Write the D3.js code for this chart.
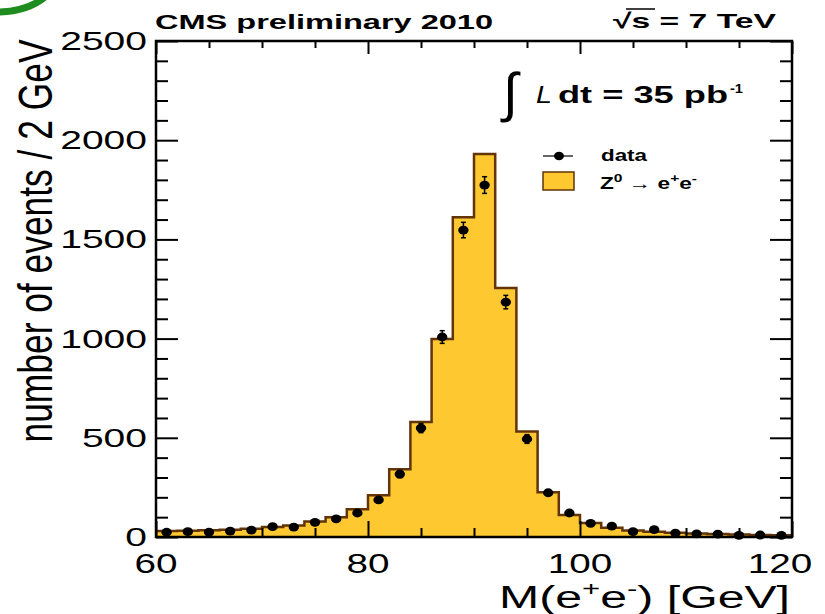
<!DOCTYPE html>
<html>
<head>
<meta charset="utf-8">
<script src="https://cdn.jsdelivr.net/npm/d3@7"></script>
<style>
  body { margin: 0; background: #fff; }
  svg { display: block; }
  text { font-family: "Liberation Sans", Arial, sans-serif; }
</style>
</head>
<body>
<div class="vis-container"></div>
<script>
// bins of 2 GeV, lower edges
const binLow = [60, 62, 64, 66, 68, 70, 72, 74, 76, 78, 80, 82, 84, 86, 88,
  90, 92, 94, 96, 98, 100, 102, 104, 106, 108, 110, 112, 114, 116, 118];
const binUpper = 120;
// Z -> ee simulation (filled histogram)
const mcCounts = [30, 32, 34, 37, 41, 50, 58, 78, 100, 140, 210, 342, 580, 998, 1612,
  1930, 1255, 532, 225, 111, 70, 47, 33, 27, 22, 18, 15, 12, 10, 9];
// data points and their errors
const dataCounts = [24, 27, 25, 30, 35, 52, 50, 74, 91, 121, 187, 317, 549, 1008, 1547,
  1774, 1184, 494, 223, 121, 69, 55, 27, 37, 20, 16, 14, 8, 10, 8];
const dataErrors = [5, 5, 5, 5, 6, 7, 7, 9, 10, 11, 14, 18, 23, 32, 39,
  42, 34, 22, 15, 11, 8, 7, 5, 6, 4, 4, 4, 3, 3, 3];
const xMajorTicks = [60, 80, 100, 120];
const xMinorTicks = [65, 70, 75, 85, 90, 95, 105, 110, 115];
const yMajorTicks = [0, 500, 1000, 1500, 2000, 2500];
const yMinorTicks = [100, 200, 300, 400, 600, 700, 800, 900, 1100, 1200, 1300, 1400,
  1600, 1700, 1800, 1900, 2100, 2200, 2300, 2400];

const FILL = '#fdc830';
const EDGE = '#623408';

document.addEventListener('DOMContentLoaded', () => {
  buildPlot();
});

function buildPlot() {
  const width = 825;
  const height = 614;
  const svg = d3.select('.vis-container').append('svg')
    .attr('width', width)
    .attr('height', height);

  const x = d3.scaleLinear().domain([60, 120]).range([156, 792]);
  const y = d3.scaleLinear().domain([0, 2500]).range([537, 41]);

  // green swoosh in the corner
  svg.append('path')
    .attr('d', 'M-4,12 Q28,12 46,-4')
    .attr('fill', 'none')
    .attr('stroke', '#1f8c1f')
    .attr('stroke-width', 7);

  // histogram
  const steps = binLow.map((b, i) => [b, mcCounts[i]])
    .concat([[binUpper, mcCounts[mcCounts.length - 1]]]);
  const area = d3.area()
    .x(d => x(d[0]))
    .y0(y(0))
    .y1(d => y(d[1]))
    .curve(d3.curveStepAfter);
  const line = d3.line()
    .x(d => x(d[0]))
    .y(d => y(d[1]))
    .curve(d3.curveStepAfter);
  svg.append('path')
    .attr('d', area(steps))
    .attr('fill', FILL);
  svg.append('path')
    .attr('d', line(steps))
    .attr('fill', 'none')
    .attr('stroke', EDGE)
    .attr('stroke-width', 2.5);

  // data points
  const pts = binLow.map((b, i) => ({c: b + 1, v: dataCounts[i], e: dataErrors[i]}));
  const pg = svg.append('g');
  pg.selectAll('.err').data(pts)
    .enter().append('line')
      .attr('class', 'err')
      .attr('x1', d => x(d.c))
      .attr('x2', d => x(d.c))
      .attr('y1', d => y(d.v - d.e))
      .attr('y2', d => y(d.v + d.e))
      .attr('stroke', '#000')
      .attr('stroke-width', 1.5);
  pg.selectAll('.cap').data(pts.flatMap(d => [d.v - d.e, d.v + d.e].map(v => ({c: d.c, v}))))
    .enter().append('line')
      .attr('class', 'cap')
      .attr('x1', d => x(d.c) - 2.5)
      .attr('x2', d => x(d.c) + 2.5)
      .attr('y1', d => y(d.v))
      .attr('y2', d => y(d.v))
      .attr('stroke', '#000')
      .attr('stroke-width', 1.5);
  pg.selectAll('.dot').data(pts)
    .enter().append('ellipse')
      .attr('class', 'dot')
      .attr('cx', d => x(d.c))
      .attr('cy', d => y(d.v))
      .attr('rx', 5.2)
      .attr('ry', 4.4)
      .attr('fill', '#000');

  // ticks on all four sides, pointing inwards
  const tickAxis = (axisFn, scale, values, size, transform) => {
    const g = svg.append('g')
      .attr('transform', transform)
      .call(axisFn(scale).tickValues(values).tickSizeInner(-size).tickSizeOuter(0).tickFormat(''));
    g.select('.domain').remove();
    g.selectAll('.tick line').attr('stroke', '#000').attr('stroke-width', 2);
  };
  tickAxis(d3.axisBottom, x, xMajorTicks, 16, `translate(0,${y(0)})`);
  tickAxis(d3.axisBottom, x, xMinorTicks, 9, `translate(0,${y(0)})`);
  tickAxis(d3.axisTop, x, xMajorTicks, 13, `translate(0,${y(2500)})`);
  tickAxis(d3.axisTop, x, xMinorTicks, 7, `translate(0,${y(2500)})`);
  tickAxis(d3.axisLeft, y, yMajorTicks, 22, `translate(${x(60)},0)`);
  tickAxis(d3.axisLeft, y, yMinorTicks, 12, `translate(${x(60)},0)`);
  tickAxis(d3.axisRight, y, yMajorTicks, 22, `translate(${x(120)},0)`);
  tickAxis(d3.axisRight, y, yMinorTicks, 12, `translate(${x(120)},0)`);

  svg.append('rect')
    .attr('x', x(60))
    .attr('y', y(2500))
    .attr('width', x(120) - x(60))
    .attr('height', y(0) - y(2500))
    .attr('fill', 'none')
    .attr('stroke', '#000')
    .attr('stroke-width', 2.5);

  // tick labels
  svg.selectAll('.ylab').data(yMajorTicks)
    .enter().append('text')
      .attr('class', 'ylab')
      .attr('x', 147)
      .attr('y', d => y(d) + 9)
      .attr('text-anchor', 'end')
      .attr('font-size', 26)
      .attr('textLength', d => String(d).length * 21.7)
      .attr('lengthAdjust', 'spacingAndGlyphs')
      .text(d => d);
  svg.selectAll('.xlab').data(xMajorTicks)
    .enter().append('text')
      .attr('class', 'xlab')
      .attr('x', d => d === 120 ? x(d) - 12 : x(d))
      .attr('y', 573)
      .attr('text-anchor', 'middle')
      .attr('font-size', 27)
      .attr('textLength', d => String(d).length * 21.5)
      .attr('lengthAdjust', 'spacingAndGlyphs')
      .text(d => d);

  // axis titles
  svg.append('text')
    .attr('transform', 'translate(52,241) scale(1.38,1) rotate(-90)')
    .attr('text-anchor', 'middle')
    .attr('font-size', 35)
    .attr('textLength', 403)
    .attr('lengthAdjust', 'spacingAndGlyphs')
    .text('number of events / 2 GeV');

  const xt = svg.append('text')
    .attr('x', 499)
    .attr('y', 608)
    .attr('font-size', 31)
    .attr('textLength', 291)
    .attr('lengthAdjust', 'spacingAndGlyphs');
  xt.append('tspan').text('M(e');
  xt.append('tspan').attr('dy', -12).attr('font-size', 20).text('+');
  xt.append('tspan').attr('dy', 12).text('e');
  xt.append('tspan').attr('dy', -12).attr('font-size', 20).text('-');
  xt.append('tspan').attr('dy', 12).text(') [GeV]');

  // header
  svg.append('text')
    .attr('x', 155)
    .attr('y', 29)
    .attr('font-size', 21)
    .attr('font-weight', 'bold')
    .attr('textLength', 338)
    .attr('lengthAdjust', 'spacingAndGlyphs')
    .text('CMS preliminary 2010');
  svg.append('text')
    .attr('x', 613)
    .attr('y', 28)
    .attr('font-size', 21)
    .attr('font-weight', 'bold')
    .attr('textLength', 163)
    .attr('lengthAdjust', 'spacingAndGlyphs')
    .text('\u221As = 7 TeV');
  svg.append('line')
    .attr('x1', 626).attr('x2', 655)
    .attr('y1', 9).attr('y2', 9)
    .attr('stroke', '#000')
    .attr('stroke-width', 1.5);

  // luminosity
  svg.append('text')
    .attr('x', 503)
    .attr('y', 111)
    .attr('font-family', '"Liberation Serif", serif')
    .attr('font-size', 54)
    .text('\u222B');
  svg.append('text')
    .attr('x', 536)
    .attr('y', 103)
    .attr('font-family', '"Liberation Serif", serif')
    .attr('font-style', 'italic')
    .attr('font-size', 24)
    .attr('textLength', 16)
    .attr('lengthAdjust', 'spacingAndGlyphs')
    .text('L');
  svg.append('text')
    .attr('x', 558)
    .attr('y', 103)
    .attr('font-size', 24)
    .attr('font-weight', 'bold')
    .attr('textLength', 170)
    .attr('lengthAdjust', 'spacingAndGlyphs')
    .text('dt = 35 pb');
  svg.append('text')
    .attr('x', 730)
    .attr('y', 93)
    .attr('font-size', 13)
    .attr('font-weight', 'bold')
    .attr('textLength', 13)
    .attr('lengthAdjust', 'spacingAndGlyphs')
    .text('-1');

  // legend
  svg.append('line')
    .attr('x1', 543).attr('x2', 573)
    .attr('y1', 156).attr('y2', 156)
    .attr('stroke', '#333')
    .attr('stroke-width', 1.5);
  svg.append('ellipse')
    .attr('cx', 559).attr('cy', 156)
    .attr('rx', 5).attr('ry', 4.2)
    .attr('fill', '#000');
  svg.append('text')
    .attr('x', 601)
    .attr('y', 161)
    .attr('font-size', 16)
    .attr('font-weight', 'bold')
    .attr('textLength', 46)
    .attr('lengthAdjust', 'spacingAndGlyphs')
    .text('data');
  svg.append('rect')
    .attr('x', 543).attr('y', 172)
    .attr('width', 31).attr('height', 18)
    .attr('fill', FILL)
    .attr('stroke', EDGE)
    .attr('stroke-width', 1.5);
  const lz = svg.append('text')
    .attr('x', 600)
    .attr('y', 189)
    .attr('font-size', 16)
    .attr('font-weight', 'bold')
    .attr('textLength', 97)
    .attr('lengthAdjust', 'spacingAndGlyphs');
  lz.append('tspan').text('Z');
  lz.append('tspan').attr('dy', -7).attr('font-size', 11).text('0');
  lz.append('tspan').attr('dy', 7).attr('font-weight', 'normal').text(' \u2192 ');
  lz.append('tspan').text('e');
  lz.append('tspan').attr('dy', -7).attr('font-size', 11).text('+');
  lz.append('tspan').attr('dy', 7).text('e');
  lz.append('tspan').attr('dy', -7).attr('font-size', 11).text('-');
}
</script>
</body>
</html>
